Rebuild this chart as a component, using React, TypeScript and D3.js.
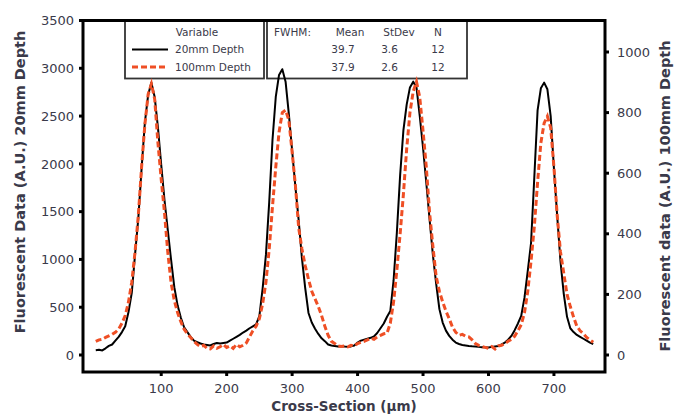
import React from 'react';
import * as d3 from 'd3';

// Cross-section positions (µm), sampled every 5 µm from 0 to 760
const positions: number[] = d3.range(0, 765, 5);

// Fluorescent data, 20mm depth (left axis)
const depth20: number[] = [
  50, 55, 48, 70, 95, 110, 150, 190, 240, 300,
  450, 650, 1050, 1430, 1950, 2430, 2720, 2850, 2700, 2380,
  1990, 1620, 1310, 1000, 710, 520, 390, 290, 240, 190,
  150, 135, 120, 110, 105, 100, 115, 125, 120, 125,
  130, 150, 170, 190, 210, 235, 255, 280, 300, 320,
  410, 700, 1050, 1600, 2250, 2700, 2930, 2990, 2860, 2520,
  2140, 1760, 1410, 1010, 700, 440, 340, 275, 220, 175,
  145, 110, 100, 95, 90, 92, 88, 85, 90, 100,
  130, 150, 160, 170, 180, 195, 230, 280, 330, 400,
  460, 780, 1280, 1880, 2350, 2620, 2800, 2860, 2800, 2500,
  2170, 1800, 1420, 1050, 750, 480, 340, 255, 200, 160,
  130, 115, 105, 100, 95, 92, 90, 85, 82, 80,
  78, 85, 90, 95, 110, 130, 160, 200, 260, 330,
  410, 600, 880, 1170, 1860, 2560, 2790, 2850, 2780, 2500,
  1950, 1450, 980, 640, 400, 280, 240, 210, 190, 170,
  150, 130, 115,
];

// Fluorescent data, 100mm depth (right axis)
const depth100: number[] = [
  45, 50, 52, 58, 63, 68, 75, 85, 105, 130,
  175, 240, 340, 460, 620, 760, 860, 895, 845, 700,
  580, 470, 340, 240, 180, 140, 110, 85, 70, 58,
  45, 35, 28, 32, 22, 20, 30, 22, 27, 35,
  25, 30, 22, 35, 27, 32, 40, 60, 80, 95,
  120, 170, 240, 350, 490, 620, 735, 800, 808, 775,
  670, 560, 420, 350, 295, 250, 210, 185, 160, 130,
  95, 65, 45, 38, 30, 28, 30, 27, 32, 30,
  38, 42, 45, 50, 55, 52, 60, 65, 70, 72,
  105, 175, 280, 400, 530, 680, 800, 870, 902, 850,
  740, 620, 470, 360, 260, 210, 175, 145, 120, 92,
  75, 65, 68, 62, 60, 50, 38, 32, 28, 25,
  22, 28, 20, 30, 32, 38, 45, 52, 62, 80,
  100, 140, 210, 310, 423, 570, 700, 765, 788, 750,
  620, 460, 340, 270, 200, 160, 125, 95, 80, 70,
  58, 50, 42,
];

const xTicks: number[] = [100, 200, 300, 400, 500, 600, 700];
const leftTicks: number[] = [0, 500, 1000, 1500, 2000, 2500, 3000, 3500];
const rightTicks: number[] = [0, 200, 400, 600, 800, 1000];

const seriesNames: string[] = ['20mm Depth', '100mm Depth'];
const statHeaders: string[] = ['Mean', 'StDev', 'N'];
const statRows: string[][] = [
  ['39.7', '3.6', '12'],
  ['37.9', '2.6', '12'],
];

const W = 677;
const H = 416;
const left = 83;
const right = 605;
const top = 20.5;
const bottom = 372;
const RED = '#ef4f25';
const TXT = '#3a3a4a';
const FONT = '"DejaVu Sans", Verdana, sans-serif';

export default function App() {
  const x = d3.scaleLinear().domain([-19.5, 778]).range([left, right]);
  const yL = d3.scaleLinear().domain([0, 3500]).range([355, top]);
  const yR = d3.scaleLinear().domain([0, 1000]).range([355, 52]);

  const line20 = d3
    .line<number>()
    .x((_, i) => x(positions[i]))
    .y((d) => yL(d))(depth20) as string;
  const line100 = d3
    .line<number>()
    .x((_, i) => x(positions[i]))
    .y((d) => yR(d))(depth100) as string;

  const statCols = [350, 399, 438];

  return (
    <svg
      width={W}
      height={H}
      style={{ position: 'absolute', left: 0, top: 0, background: '#fff' }}
      fontFamily={FONT}
    >
      <rect x={0} y={0} width={W} height={H} fill="#fff" />

      {/* legend boxes */}
      <rect x={125} y={top} width={139} height={58} fill="#fff" stroke="#333" strokeWidth={1.8} />
      <rect x={267} y={top} width={200} height={58} fill="#fff" stroke="#333" strokeWidth={1.8} />
      <text x={197} y={36} fontSize={10.5} fill={TXT} textAnchor="middle">Variable</text>
      <line x1={132} x2={168} y1={49.5} y2={49.5} stroke="#000" strokeWidth={2} />
      <line x1={132} x2={168} y1={67} y2={67} stroke={RED} strokeWidth={3} strokeDasharray="6,3" />
      <text x={175} y={53} fontSize={10.5} fill={TXT}>{seriesNames[0]}</text>
      <text x={175} y={70.5} fontSize={10.5} fill={TXT}>{seriesNames[1]}</text>

      <text x={274} y={36} fontSize={10.5} fill={TXT}>FWHM:</text>
      {statHeaders.map((h, i) => (
        <text key={h} x={statCols[i]} y={36} fontSize={10.5} fill={TXT} textAnchor="middle">{h}</text>
      ))}
      {statRows.map((row, r) =>
        row.map((v, i) => (
          <text
            key={`${r}-${i}`}
            x={[343, 389.5, 438][i]}
            y={53 + r * 17.5}
            fontSize={10.5}
            fill={TXT}
            textAnchor="middle"
          >
            {v}
          </text>
        ))
      )}

      {/* curves */}
      <path d={line20} fill="none" stroke="#000" strokeWidth={2} strokeLinejoin="round" />
      <path d={line100} fill="none" stroke={RED} strokeWidth={3} strokeDasharray="6,3" />

      {/* frame */}
      <rect x={left} y={top} width={right - left} height={bottom - top} fill="none" stroke="#000" strokeWidth={3} />

      {/* left axis */}
      {leftTicks.map((t) => (
        <g key={`l${t}`}>
          <line x1={left - 4} x2={left} y1={yL(t)} y2={yL(t)} stroke="#000" strokeWidth={3} />
          <text x={74} y={yL(t)} dy="0.36em" fontSize={13} fill={TXT} textAnchor="end">{t}</text>
        </g>
      ))}
      {/* right axis */}
      {rightTicks.map((t) => (
        <g key={`r${t}`}>
          <line x1={right} x2={right + 4} y1={yR(t)} y2={yR(t)} stroke="#000" strokeWidth={3} />
          <text x={617} y={yR(t)} dy="0.36em" fontSize={13} fill={TXT}>{t}</text>
        </g>
      ))}
      {/* bottom axis */}
      {xTicks.map((t) => (
        <g key={`x${t}`}>
          <line x1={x(t)} x2={x(t)} y1={bottom} y2={bottom + 4} stroke="#000" strokeWidth={3} />
          <text x={x(t)} y={393} fontSize={13} fill={TXT} textAnchor="middle">{t}</text>
        </g>
      ))}

      <text x={(left + right) / 2} y={411} fontSize={13.5} fontWeight="bold" fill={TXT} textAnchor="middle">
        Cross-Section (µm)
      </text>
      <text
        transform={`translate(25,182) rotate(-90)`}
        fontSize={14.5}
        fontWeight="bold"
        fill={TXT}
        textAnchor="middle"
      >
        Fluorescent Data (A.U.) 20mm Depth
      </text>
      <text
        transform={`translate(670,196) rotate(-90)`}
        fontSize={14.5}
        fontWeight="bold"
        fill={TXT}
        textAnchor="middle"
      >
        Fluorescent data (A.U.) 100mm Depth
      </text>
    </svg>
  );
}
